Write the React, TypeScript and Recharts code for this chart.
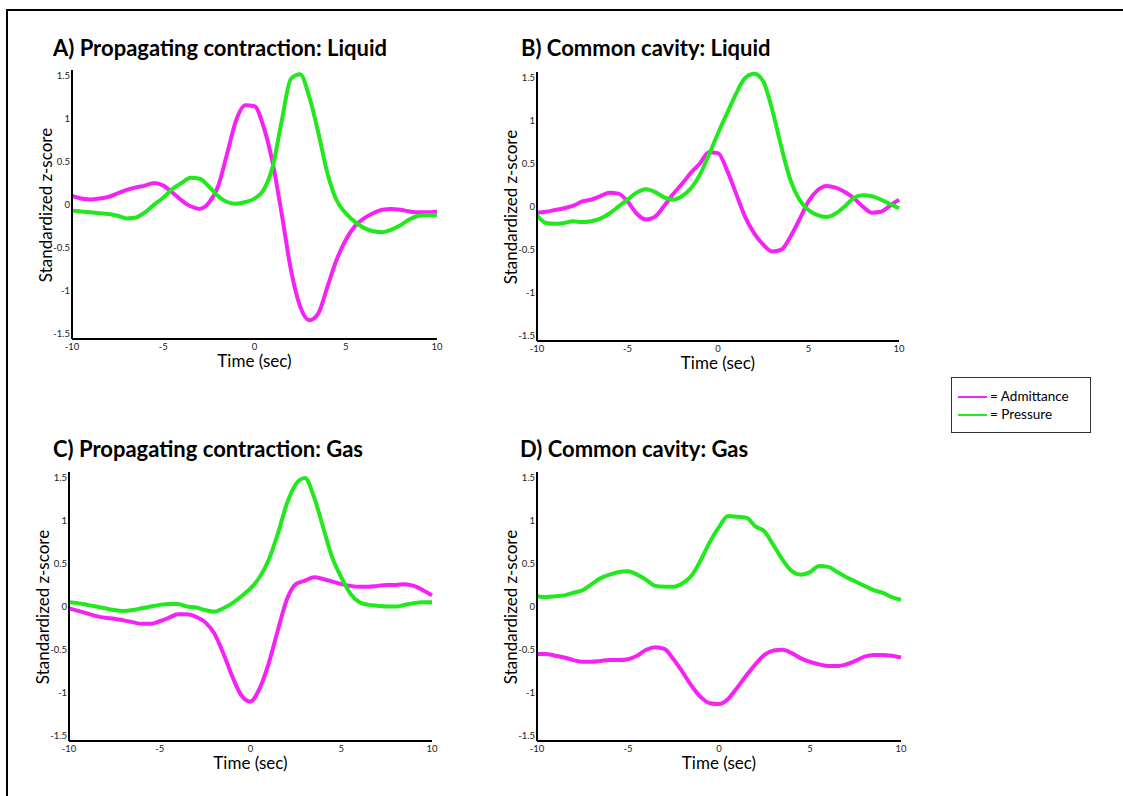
import { Line, LineChart, XAxis, YAxis } from 'recharts'

const time = [
  -10, -9.5, -9, -8.5, -8, -7.5, -7, -6.5, -6, -5.5, -5, -4.5, -4, -3.5, -3, -2.5, -2, -1.5, -1, -0.5,
  0, 0.5, 1, 1.5, 2, 2.5, 3, 3.5, 4, 4.5, 5, 5.5, 6, 6.5, 7, 7.5, 8, 8.5, 9, 9.5, 10,
]
const xTicks = [-10, -5, 0, 5, 10]
const yTicks = [-1.5, -1, -0.5, 0, 0.5, 1, 1.5]

// A) propagating contraction, liquid
const liquidPropAdmittance = [
  0.1, 0.07, 0.06, 0.07, 0.09, 0.13, 0.17, 0.2, 0.22, 0.25, 0.22, 0.14, 0.05, -0.02, -0.05, 0.02, 0.21, 0.59,
  0.98, 1.15, 1.14, 0.9, 0.48, -0.12, -0.76, -1.18, -1.34, -1.26, -0.95, -0.64, -0.41, -0.25, -0.16, -0.1,
  -0.06, -0.05, -0.06, -0.08, -0.09, -0.09, -0.08,
]
const liquidPropPressure = [
  -0.07, -0.08, -0.09, -0.1, -0.11, -0.13, -0.16, -0.15, -0.09, 0.0, 0.08, 0.18, 0.25, 0.31, 0.3, 0.21, 0.1,
  0.03, 0.01, 0.03, 0.07, 0.17, 0.44, 0.98, 1.46, 1.51, 1.25, 0.83, 0.36, 0.05, -0.1, -0.2, -0.27, -0.31,
  -0.32, -0.29, -0.24, -0.17, -0.13, -0.12, -0.12,
]

// B) common cavity, liquid
const liquidCavityAdmittance = [
  -0.07, -0.06, -0.04, -0.02, 0.01, 0.06, 0.08, 0.12, 0.16, 0.15, 0.06, -0.08, -0.15, -0.12, 0.0, 0.14, 0.26,
  0.39, 0.5, 0.63, 0.62, 0.42, 0.15, -0.12, -0.31, -0.44, -0.52, -0.5, -0.35, -0.15, 0.06, 0.19, 0.24, 0.22,
  0.17, 0.1, 0.0, -0.07, -0.06, 0.01, 0.08,
]
const liquidCavityPressure = [
  -0.1, -0.19, -0.2, -0.19, -0.17, -0.18, -0.17, -0.14, -0.08, 0.0, 0.08, 0.16, 0.2, 0.17, 0.11, 0.08, 0.12,
  0.21, 0.37, 0.6, 0.85, 1.08, 1.31, 1.49, 1.54, 1.45, 1.12, 0.69, 0.31, 0.08, -0.04, -0.1, -0.12, -0.08, 0.0,
  0.1, 0.13, 0.12, 0.08, 0.03, -0.02,
]

// C) propagating contraction, gas
const gasPropAdmittance = [
  -0.02, -0.05, -0.08, -0.11, -0.13, -0.14, -0.16, -0.18, -0.2, -0.2, -0.17, -0.13, -0.09, -0.09, -0.12, -0.18,
  -0.31, -0.54, -0.81, -1.03, -1.1, -0.95, -0.66, -0.28, 0.08, 0.26, 0.3, 0.34, 0.32, 0.29, 0.26, 0.24, 0.23,
  0.23, 0.24, 0.25, 0.25, 0.26, 0.24, 0.19, 0.13,
]
const gasPropPressure = [
  0.05, 0.04, 0.02, 0.0, -0.02, -0.04, -0.05, -0.04, -0.02, 0.0, 0.02, 0.03, 0.03, 0.0, -0.01, -0.04, -0.06,
  -0.02, 0.04, 0.12, 0.21, 0.34, 0.54, 0.84, 1.19, 1.42, 1.49, 1.27, 0.92, 0.57, 0.34, 0.15, 0.05, 0.02, 0.01,
  0.0, 0.0, 0.02, 0.04, 0.05, 0.05,
]

// D) common cavity, gas
const gasCavityAdmittance = [
  -0.55, -0.55, -0.57, -0.59, -0.62, -0.64, -0.64, -0.63, -0.62, -0.62, -0.61, -0.57, -0.5, -0.47, -0.49,
  -0.61, -0.76, -0.92, -1.05, -1.12, -1.13, -1.07, -0.94, -0.8, -0.67, -0.56, -0.51, -0.5, -0.54, -0.6, -0.64,
  -0.67, -0.69, -0.69, -0.67, -0.63, -0.58, -0.56, -0.56, -0.57, -0.59,
]
const gasCavityPressure = [
  0.12, 0.11, 0.12, 0.13, 0.16, 0.19, 0.26, 0.33, 0.37, 0.4, 0.41, 0.37, 0.31, 0.24, 0.23, 0.23, 0.27, 0.36,
  0.54, 0.75, 0.92, 1.05, 1.04, 1.03, 0.93, 0.87, 0.71, 0.54, 0.41, 0.37, 0.4, 0.47, 0.46, 0.4, 0.34, 0.29,
  0.24, 0.19, 0.16, 0.11, 0.08,
]

const ADMITTANCE = '#f522f5'
const PRESSURE = '#22e81e'
const FONT = 'Lato, "Open Sans", sans-serif'
const PLOT_H = 269

const panels = [
  { title: 'A) Propagating contraction: Liquid', adm: liquidPropAdmittance, pres: liquidPropPressure, x: 72, y: 70, w: 365, titleX: 53, titleY: 36 },
  { title: 'B) Common cavity: Liquid', adm: liquidCavityAdmittance, pres: liquidCavityPressure, x: 537, y: 72, w: 362, titleX: 521, titleY: 36 },
  { title: 'C) Propagating contraction: Gas', adm: gasPropAdmittance, pres: gasPropPressure, x: 69, y: 472, w: 363, titleX: 53, titleY: 437 },
  { title: 'D) Common cavity: Gas', adm: gasCavityAdmittance, pres: gasCavityPressure, x: 537, y: 472, w: 364, titleX: 520, titleY: 437 },
]

const tickStyle = { fill: '#222', fontSize: 9.5, fontFamily: FONT }

function Panel({ title, adm, pres, x, y, w, titleX, titleY }: (typeof panels)[number]) {
  const data = time.map((t, i) => ({ t, adm: adm[i], pres: pres[i] }))
  return (
    <>
      <div style={{ position: 'absolute', left: titleX, top: titleY, fontFamily: FONT, fontWeight: 700, fontSize: 22, lineHeight: '24px', color: '#000', whiteSpace: 'nowrap' }}>
        {title}
      </div>
      <div style={{ position: 'absolute', left: x - 27, top: y + PLOT_H / 2, transform: 'translate(-50%, -50%) rotate(-90deg)', fontFamily: FONT, fontSize: 17, whiteSpace: 'nowrap' }}>
        Standardized z-score
      </div>
      <div style={{ position: 'absolute', left: x + w / 2, top: y + PLOT_H + 21, transform: 'translate(-50%, -50%)', fontFamily: FONT, fontSize: 17, whiteSpace: 'nowrap' }}>
        Time (sec)
      </div>
      <div style={{ position: 'absolute', left: x - 40, top: y - 10 }}>
        <LineChart width={w + 50} height={PLOT_H + 30} data={data} margin={{ top: 10, right: 10, left: 0, bottom: 0 }}>
          <XAxis
            dataKey="t"
            type="number"
            domain={[-10, 10]}
            ticks={xTicks}
            axisLine={{ stroke: '#000', strokeWidth: 2 }}
            tickLine={false}
            tickSize={3}
            tickMargin={1}
            tick={tickStyle}
            height={20}
          />
          <YAxis
            type="number"
            domain={[-1.558, 1.56]}
            ticks={yTicks}
            allowDataOverflow
            axisLine={{ stroke: '#000', strokeWidth: 2 }}
            tickLine={false}
            tickSize={2}
            tickMargin={0}
            tick={tickStyle}
            width={40}
          />
          <Line dataKey="adm" type="monotone" stroke={ADMITTANCE} strokeWidth={4} dot={false} isAnimationActive={false} />
          <Line dataKey="pres" type="monotone" stroke={PRESSURE} strokeWidth={4} dot={false} isAnimationActive={false} />
        </LineChart>
      </div>
    </>
  )
}

export default function App() {
  return (
    <div style={{ position: 'absolute', left: 0, top: 0, width: 1123, height: 796, background: '#fff', overflow: 'hidden' }}>
      <div style={{ position: 'absolute', left: 6, top: 9, width: 1130, height: 800, borderTop: '2px solid #000', borderLeft: '2px solid #000' }} />
      {panels.map((p) => (
        <Panel key={p.title} {...p} />
      ))}
      <div style={{ position: 'absolute', left: 951, top: 377, width: 138, height: 54, border: '1px solid #333', fontFamily: FONT, fontSize: 13.5 }}>
        <div style={{ position: 'absolute', left: 6, top: 18, width: 29, height: 2, background: ADMITTANCE }} />
        <div style={{ position: 'absolute', left: 38, top: 10, lineHeight: '16px' }}>= Admittance</div>
        <div style={{ position: 'absolute', left: 6, top: 36, width: 29, height: 2, background: PRESSURE }} />
        <div style={{ position: 'absolute', left: 38, top: 28, lineHeight: '16px' }}>= Pressure</div>
      </div>
    </div>
  )
}
